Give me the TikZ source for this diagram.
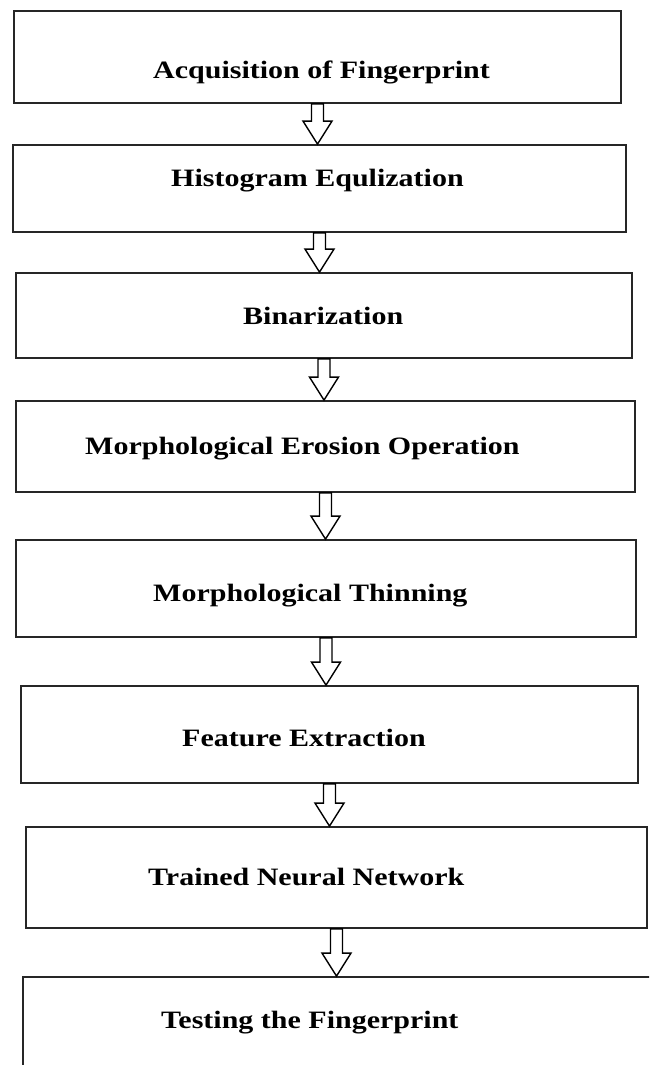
\documentclass[tikz,border=0pt]{standalone}
\usepackage{fontspec}
\newfontfamily\stagefont[FakeStretch=1.2]{Liberation Serif}
\usetikzlibrary{calc}

% hollow block arrow from the bottom of one stage to the top of the next
\newcommand{\flowarrow}[2]{%
  \draw[block arrow] let \p1=(#1.south), \p2=(#2.north) in
    (\x1-6pt,\y1) -- (\x1-6pt,\y2+23pt) -- (\x1-14.5pt,\y2+23pt) -- (\x1,\y2)
    -- (\x1+14.5pt,\y2+23pt) -- (\x1+6pt,\y2+23pt) -- (\x1+6pt,\y1) -- cycle;}

\begin{document}
\begin{tikzpicture}[x=1pt,y=-1pt,
    stage/.style={draw=black!85,line width=1.8pt,rectangle,inner sep=0pt},
    stage text/.style={anchor=base west,inner sep=0pt,
      font=\stagefont\bfseries\fontsize{25}{29}\selectfont},
    block arrow/.style={draw=black,line width=1.4pt,fill=white,line join=miter}]

    \useasboundingbox (0,0) rectangle (649,1065);
    \clip (0,0) rectangle (649,1065);

    \node[stage,minimum width=607pt,minimum height=92pt] (node-acq) at (317.5,57) {};
    \node[stage,minimum width=613pt,minimum height=87pt] (node-hist) at (319.5,188.5) {};
    \node[stage,minimum width=616pt,minimum height=85pt] (node-bin) at (324,315.5) {};
    \node[stage,minimum width=619pt,minimum height=91pt] (node-ero) at (325.5,446.5) {};
    \node[stage,minimum width=620pt,minimum height=97pt] (node-thin) at (326,588.5) {};
    \node[stage,minimum width=617pt,minimum height=97pt] (node-feat) at (329.5,734.5) {};
    \node[stage,minimum width=621pt,minimum height=101pt] (node-nn) at (336.5,877.5) {};
    \node[stage,minimum width=657pt,minimum height=133pt] (node-test) at (351.5,1043.5) {};

    \node[stage text] (text-acq) at (153,78) {Acquisition of Fingerprint};
    \node[stage text] (text-hist) at (171,186) {Histogram Equlization};
    \node[stage text] (text-bin) at (243,324) {Binarization};
    \node[stage text] (text-ero) at (85,454) {Morphological Erosion Operation};
    \node[stage text] (text-thin) at (153,601) {Morphological Thinning};
    \node[stage text] (text-feat) at (182,746) {Feature Extraction};
    \node[stage text] (text-nn) at (148,885) {Trained Neural Network};
    \node[stage text] (text-test) at (161,1028) {Testing the Fingerprint};

    \flowarrow{node-acq}{node-hist}
    \flowarrow{node-hist}{node-bin}
    \flowarrow{node-bin}{node-ero}
    \flowarrow{node-ero}{node-thin}
    \flowarrow{node-thin}{node-feat}
    \flowarrow{node-feat}{node-nn}
    \flowarrow{node-nn}{node-test}
\end{tikzpicture}
\end{document}
